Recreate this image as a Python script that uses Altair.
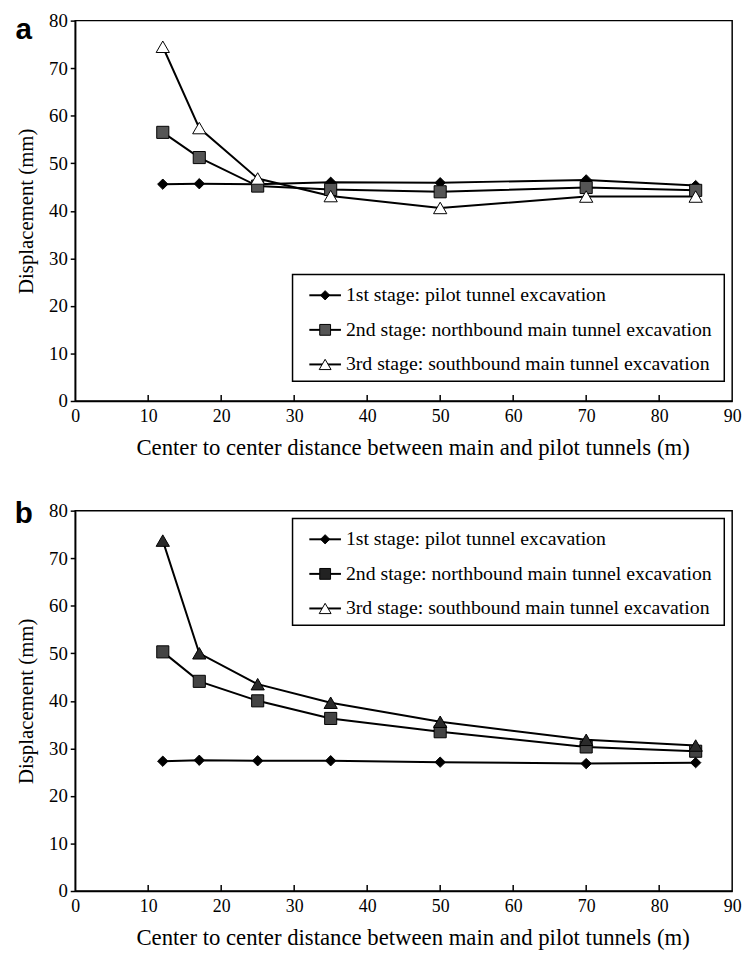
import altair as alt
import pandas as pd

# ---------------- data ----------------
distance = [12, 17, 25, 35, 50, 70, 85]
series_names = [
    "1st stage: pilot tunnel excavation",
    "2nd stage: northbound main tunnel excavation",
    "3rd stage: southbound main tunnel excavation",
]
a_stage1 = [45.6, 45.7, 45.6, 46.0, 45.9, 46.5, 45.3]
a_stage2 = [56.5, 51.2, 45.2, 44.5, 44.0, 44.9, 44.3]
a_stage3 = [74.5, 57.4, 46.8, 43.1, 40.6, 43.0, 43.0]
b_stage1 = [27.3, 27.5, 27.4, 27.4, 27.1, 26.8, 27.0]
b_stage2 = [50.3, 44.1, 40.0, 36.3, 33.5, 30.3, 29.4]
b_stage3 = [73.7, 50.0, 43.5, 39.6, 35.6, 31.8, 30.6]
x_ticks = [0, 10, 20, 30, 40, 50, 60, 70, 80, 90]
y_ticks = [0, 10, 20, 30, 40, 50, 60, 70, 80]
x_title = "Center to center distance between main and pilot tunnels (m)"
y_title = "Displacement (mm)"
panel_letters = ["a", "b"]

SERIF = "Liberation Serif"
W = 665
H = 385
one = pd.DataFrame({"k": [0]})
shapes = ["diamond", "square", "triangle-up"]
sizes = [110, 150, 180]


def make_panel(values, letter, point_fills, legend_fills, legend_top, letter_y):
    rows = []
    for s, vals in zip(series_names, values):
        for k, (d, v) in enumerate(zip(distance, vals)):
            rows.append({"x": d, "y": v, "series": s, "order": k})
    df = pd.DataFrame(rows)

    x_enc = alt.X(
        "x:Q",
        scale=alt.Scale(domain=[0, 90], nice=False, zero=False),
        axis=alt.Axis(
            values=x_ticks, title=x_title, tickSize=0, labelPadding=7,
            titlePadding=11, titleX=W / 2 + 9, grid=False, domainColor="black",
            domainWidth=1.5, labelFont=SERIF, labelFontSize=18, titleFont=SERIF,
            titleFontSize=23, titleFontWeight="normal", labelColor="black",
            titleColor="black", labelFlush=False,
        ),
    )
    y_enc = alt.Y(
        "y:Q",
        scale=alt.Scale(domain=[0, 80], nice=False),
        axis=alt.Axis(
            values=y_ticks, title=y_title, tickSize=5, tickColor="black",
            tickWidth=1.5, labelPadding=3, titlePadding=12, grid=False,
            domainColor="black", domainWidth=1.5, labelFont=SERIF,
            labelFontSize=19, titleFont=SERIF, titleFontSize=21,
            titleFontWeight="normal", labelColor="black", titleColor="black",
            labelFlush=False,
        ),
    )

    base = alt.Chart(df)
    layers = [
        base.mark_line(color="black", strokeWidth=2).encode(
            x=x_enc, y=y_enc, detail="series:N", order="order:Q"
        )
    ]
    for i, name in enumerate(series_names):
        layers.append(
            base.transform_filter(alt.datum.series == name).mark_point(
                shape=shapes[i], filled=True, fill=point_fills[i], stroke="black",
                strokeWidth=1, size=sizes[i], opacity=1,
            ).encode(x="x:Q", y="y:Q")
        )
    layers.append(
        alt.Chart(pd.DataFrame({"x": x_ticks[1:-1]})).mark_rule(
            color="black", strokeWidth=1.5
        ).encode(x="x:Q", y=alt.value(H), y2=alt.value(H - 6))
    )

    # legend box
    layers.append(
        alt.Chart(one).mark_rect(fill="white", stroke="black", strokeWidth=1.5).encode(
            x=alt.value(220), x2=alt.value(657),
            y=alt.value(legend_top), y2=alt.value(legend_top + 108),
        )
    )
    for i, name in enumerate(series_names):
        ry = legend_top + 21 + 35 * i
        layers.append(
            alt.Chart(one).mark_rule(color="black", strokeWidth=2).encode(
                x=alt.value(237), x2=alt.value(269), y=alt.value(ry)
            )
        )
        layers.append(
            alt.Chart(one).mark_point(
                shape=shapes[i], filled=True, fill=legend_fills[i], stroke="black",
                strokeWidth=1, size=sizes[i] * 0.8, opacity=1,
            ).encode(x=alt.value(253), y=alt.value(ry))
        )
        layers.append(
            alt.Chart(one).mark_text(
                text=name, align="left", baseline="middle", font=SERIF,
                fontSize=20, color="black",
            ).encode(x=alt.value(274), y=alt.value(ry))
        )

    layers.append(
        alt.Chart(one).mark_text(
            text=letter, font="Liberation Sans", fontWeight="bold", fontSize=30,
            align="center", baseline="alphabetic", color="black",
        ).encode(x=alt.value(-52), y=alt.value(letter_y))
    )
    return alt.layer(*layers).properties(width=W, height=H)


panel_a = make_panel([a_stage1, a_stage2, a_stage3], panel_letters[0],
                     ["black", "#555555", "white"], ["black", "#555555", "white"], 257, 19)
panel_b = make_panel([b_stage1, b_stage2, b_stage3], panel_letters[1],
                     ["black", "#444444", "#2a2a2a"], ["black", "#222222", "white"], 8, 13)

chart = (
    alt.vconcat(panel_a, panel_b, spacing=39)
    .properties(padding={"left": 6, "top": -3, "right": 5, "bottom": 0}, background="white")
    .configure_view(stroke="black", strokeWidth=1.5)
)

chart.save("out.html", embed_options={"renderer": "svg", "actions": False})
